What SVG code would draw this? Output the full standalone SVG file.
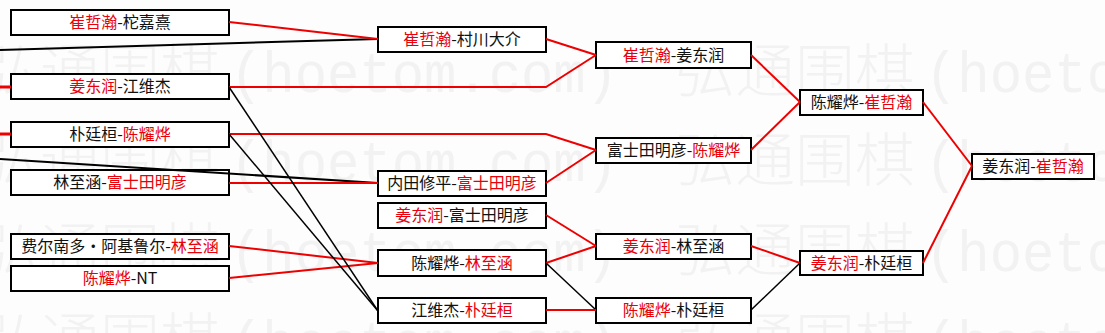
<svg xmlns="http://www.w3.org/2000/svg" width="1105" height="333" viewBox="0 0 1105 333">
<style>
.bg{fill:#fdfdfd}
.wm{font-family:"Noto Sans CJK SC","Noto Sans",sans-serif;font-size:58px;font-weight:300;fill:#f2f2f2}
.wml{font-family:"Liberation Mono","Noto Sans CJK SC",monospace;font-size:58px;fill:#f2f2f2}
.box{fill:#ffffff;stroke:#000000;stroke-width:2}
.lbl{font-family:"Noto Sans CJK SC","Noto Sans",sans-serif;font-size:16px;fill:#111111;text-anchor:middle}
.r{fill:#e8000b}
.cr{fill:none;stroke:#ee0000;stroke-width:2}
.cr3{fill:none;stroke:#ee0000;stroke-width:3}
.cb{fill:none;stroke:#000000;stroke-width:2}
.cb1{fill:none;stroke:#000000;stroke-width:1.5}
</style>
<rect class="bg" x="0" y="0" width="1105" height="333"/>
<g id="watermark">
  <text class="wm" x="-20" y="92" textLength="240" lengthAdjust="spacingAndGlyphs">弘通围棋</text>
  <text class="wml" x="230" y="92" textLength="388" lengthAdjust="spacingAndGlyphs">(hoetom.com)</text>
  <text class="wm" x="675" y="92" textLength="240" lengthAdjust="spacingAndGlyphs">弘通围棋</text>
  <text class="wml" x="925" y="92" textLength="388" lengthAdjust="spacingAndGlyphs">(hoetom.com)</text>
  <text class="wm" x="-20" y="181" textLength="240" lengthAdjust="spacingAndGlyphs">弘通围棋</text>
  <text class="wml" x="230" y="181" textLength="388" lengthAdjust="spacingAndGlyphs">(hoetom.com)</text>
  <text class="wm" x="675" y="181" textLength="240" lengthAdjust="spacingAndGlyphs">弘通围棋</text>
  <text class="wml" x="925" y="181" textLength="388" lengthAdjust="spacingAndGlyphs">(hoetom.com)</text>
  <text class="wm" x="-20" y="271" textLength="240" lengthAdjust="spacingAndGlyphs">弘通围棋</text>
  <text class="wml" x="230" y="271" textLength="388" lengthAdjust="spacingAndGlyphs">(hoetom.com)</text>
  <text class="wm" x="675" y="271" textLength="240" lengthAdjust="spacingAndGlyphs">弘通围棋</text>
  <text class="wml" x="925" y="271" textLength="388" lengthAdjust="spacingAndGlyphs">(hoetom.com)</text>
  <text class="wm" x="-20" y="361" textLength="240" lengthAdjust="spacingAndGlyphs">弘通围棋</text>
  <text class="wml" x="230" y="361" textLength="388" lengthAdjust="spacingAndGlyphs">(hoetom.com)</text>
  <text class="wm" x="675" y="361" textLength="240" lengthAdjust="spacingAndGlyphs">弘通围棋</text>
  <text class="wml" x="925" y="361" textLength="388" lengthAdjust="spacingAndGlyphs">(hoetom.com)</text>
</g>
<g id="nodes">
  <g id="n-a"><rect class="box" x="11" y="10" width="218" height="25"/><text class="lbl" x="120" y="28"><tspan class="r">崔哲瀚</tspan>-柁嘉熹</text></g>
  <g id="n-b"><rect class="box" x="11" y="74" width="218" height="25"/><text class="lbl" x="120" y="92"><tspan class="r">姜东润</tspan>-江维杰</text></g>
  <g id="n-c"><rect class="box" x="11" y="122" width="218" height="25"/><text class="lbl" x="120" y="140">朴廷桓-<tspan class="r">陈耀烨</tspan></text></g>
  <g id="n-d"><rect class="box" x="11" y="170" width="218" height="25"/><text class="lbl" x="120" y="188">林至涵-<tspan class="r">富士田明彦</tspan></text></g>
  <g id="n-e"><rect class="box" x="11" y="234" width="218" height="25"/><text class="lbl" x="120" y="252">费尔南多・阿基鲁尔-<tspan class="r">林至涵</tspan></text></g>
  <g id="n-f"><rect class="box" x="11" y="266" width="218" height="25"/><text class="lbl" x="120" y="284"><tspan class="r">陈耀烨</tspan>-NT</text></g>

  <g id="n-g"><rect class="box" x="378" y="27" width="168" height="25"/><text class="lbl" x="462" y="45"><tspan class="r">崔哲瀚</tspan>-村川大介</text></g>
  <g id="n-h"><rect class="box" x="378" y="171" width="168" height="25"/><text class="lbl" x="462" y="189">内田修平-<tspan class="r">富士田明彦</tspan></text></g>
  <g id="n-i"><rect class="box" x="378" y="203" width="168" height="25"/><text class="lbl" x="462" y="221"><tspan class="r">姜东润</tspan>-富士田明彦</text></g>
  <g id="n-j"><rect class="box" x="378" y="250" width="168" height="26"/><text class="lbl" x="462" y="269">陈耀烨-<tspan class="r">林至涵</tspan></text></g>
  <g id="n-k"><rect class="box" x="378" y="298" width="168" height="25"/><text class="lbl" x="462" y="316">江维杰-<tspan class="r">朴廷桓</tspan></text></g>

  <g id="n-l"><rect class="box" x="596" y="42" width="155" height="26"/><text class="lbl" x="673.5" y="61"><tspan class="r">崔哲瀚</tspan>-姜东润</text></g>
  <g id="n-m"><rect class="box" x="596" y="138" width="155" height="25"/><text class="lbl" x="673.5" y="156">富士田明彦-<tspan class="r">陈耀烨</tspan></text></g>
  <g id="n-n"><rect class="box" x="596" y="234" width="155" height="25"/><text class="lbl" x="673.5" y="252"><tspan class="r">姜东润</tspan>-林至涵</text></g>
  <g id="n-o"><rect class="box" x="596" y="298" width="155" height="25"/><text class="lbl" x="673.5" y="316"><tspan class="r">陈耀烨</tspan>-朴廷桓</text></g>

  <g id="n-p"><rect class="box" x="800" y="90" width="123" height="25"/><text class="lbl" x="861.5" y="108">陈耀烨-<tspan class="r">崔哲瀚</tspan></text></g>
  <g id="n-q"><rect class="box" x="800" y="251" width="123" height="24"/><text class="lbl" x="861.5" y="268.5"><tspan class="r">姜东润</tspan>-朴廷桓</text></g>

  <g id="n-r"><rect class="box" x="972" y="154" width="122" height="25"/><text class="lbl" x="1033" y="172">姜东润-<tspan class="r">崔哲瀚</tspan></text></g>
</g>
<g id="connectors">
  <line class="cb" x1="0" y1="50" x2="378" y2="39"/>
  <line class="cb" x1="0" y1="159" x2="378" y2="183"/>
  <line class="cr3" x1="0" y1="87" x2="11" y2="87"/>
  <line class="cr3" x1="0" y1="134" x2="11" y2="134"/>
  <line class="cr" x1="229" y1="22" x2="378" y2="39"/>
  <polyline class="cr" points="229,87 546,87 596,55"/>
  <polyline class="cr" points="229,134 546,134 596,150"/>
  <line class="cr" x1="229" y1="183" x2="378" y2="183"/>
  <line class="cr" x1="229" y1="246" x2="378" y2="263"/>
  <line class="cr" x1="229" y1="278" x2="378" y2="263"/>
  <line class="cb1" x1="229" y1="87" x2="378" y2="311"/>
  <line class="cb1" x1="229" y1="134" x2="378" y2="311"/>
  <line class="cr" x1="546" y1="39" x2="596" y2="55"/>
  <line class="cr" x1="546" y1="183" x2="596" y2="150"/>
  <line class="cr" x1="546" y1="215" x2="596" y2="246"/>
  <line class="cr" x1="546" y1="263" x2="596" y2="246"/>
  <line class="cb1" x1="546" y1="263" x2="596" y2="310"/>
  <line class="cr" x1="546" y1="310" x2="596" y2="310"/>
  <line class="cr" x1="751" y1="55" x2="800" y2="102"/>
  <line class="cr" x1="751" y1="150" x2="800" y2="102"/>
  <line class="cr" x1="751" y1="246" x2="800" y2="263"/>
  <line class="cb1" x1="751" y1="310" x2="800" y2="263"/>
  <line class="cr" x1="923" y1="102" x2="972" y2="166"/>
  <line class="cr" x1="923" y1="263" x2="972" y2="166"/>
</g>
</svg>
